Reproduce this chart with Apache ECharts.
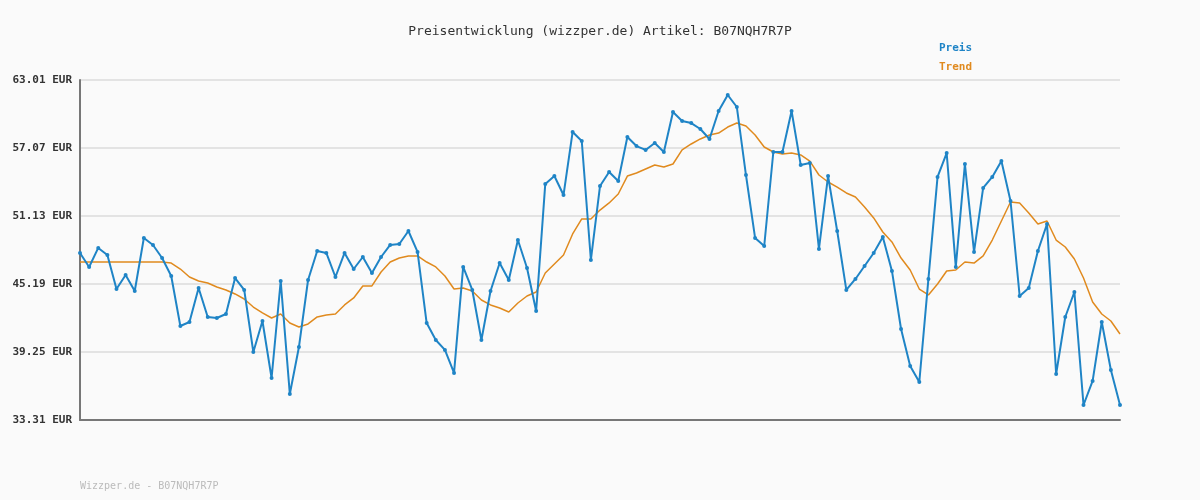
<!DOCTYPE html>
<html><head><meta charset="utf-8">
<script src="https://cdn.jsdelivr.net/npm/echarts@6/dist/echarts.min.js"></script>
<style>html,body{margin:0;background:#fafafa}#c{width:1200px;height:500px}</style>
</head><body><div id="c"></div>
<script>
const preis = [47.90,46.68,48.34,47.72,44.75,45.98,44.58,49.21,48.60,47.46,45.89,41.52,41.87,44.84,42.31,42.22,42.57,45.71,44.67,39.25,41.96,36.98,45.45,35.58,39.69,45.54,48.07,47.90,45.80,47.90,46.50,47.55,46.15,47.55,48.60,48.68,49.82,47.99,41.78,
40.30,39.43,37.42,46.68,44.67,40.30,44.58,47.02,45.54,49.03,46.59,42.83,53.93,54.62,52.96,58.47,57.68,47.29,53.75,54.97,54.19,58.03,57.24,56.90,57.51,56.72,60.21,59.43,59.25,58.73,57.86,60.30,61.70,60.65,54.71,49.21,48.51,56.72,
56.72,60.30,55.59,55.76,48.25,54.62,49.82,44.67,45.63,46.76,47.90,49.30,46.33,41.26,38.03,36.63,45.63,54.54,56.63,46.68,55.67,47.99,53.58,54.54,55.93,52.44,44.14,44.84,48.07,50.43,37.33,42.31,44.49,34.62,36.72,41.87,37.68,34.62];
const trend = [47.11,47.11,47.11,47.11,47.11,47.11,47.11,47.11,47.11,47.11,
47.02,46.50,45.80,45.45,45.28,44.93,44.67,44.32,43.88,43.18,42.66,42.22,42.57,41.78,41.43,41.70,42.31,42.48,42.57,43.36,43.97,45.02,45.02,46.24,47.11,47.46,47.64,47.64,47.11,
46.68,45.89,44.75,44.84,44.58,43.79,43.36,43.09,42.74,43.53,44.14,44.49,46.15,46.94,47.72,49.56,50.87,50.87,51.65,52.27,53.05,54.62,54.89,55.24,55.59,55.41,55.67,56.90,57.42,57.86,58.21,58.38,58.90,59.25,58.99,58.21,57.16,56.72,
56.55,56.63,56.46,55.93,54.71,54.10,53.66,53.14,52.79,51.92,50.96,49.73,48.86,47.46,46.41,44.75,44.23,45.19,46.33,46.41,47.11,47.02,47.64,49.03,50.69,52.35,52.27,51.39,50.43,50.69,49.03,48.42,47.37,45.71,43.62,42.57,41.96,40.82];
const categories = preis.map((_, i) => String(i + 1));
const yMin = 33.31, yMax = 63.01, yStep = 5.94;
const mono = 'DejaVu Sans Mono';
const chart = echarts.init(document.getElementById('c'));
chart.setOption({
  backgroundColor: '#fafafa',
  animation: false,
  title: { text: 'Preisentwicklung (wizzper.de) Artikel: B07NQH7R7P', left: 'center', top: 20,
    textStyle: { fontFamily: mono, fontSize: 13, fontWeight: 'normal', color: '#333' } },
  legend: { orient: 'vertical', left: 929, top: 38, itemWidth: 0, itemHeight: 0, itemGap: 8, icon: 'none',
    data: [{ name: 'Preis', textStyle: { color: '#1f84c6' } }, { name: 'Trend', textStyle: { color: '#e08a1e' } }],
    textStyle: { fontFamily: mono, fontSize: 11, fontWeight: 'bold' } },
  grid: { left: 80, right: 80, top: 80, bottom: 80 },
  xAxis: { type: 'category', data: categories, boundaryGap: false,
    axisLine: { lineStyle: { color: '#777', width: 2 } }, axisTick: { show: false }, axisLabel: { show: false } },
  yAxis: { type: 'value', min: yMin, max: yMax, interval: yStep,
    axisLine: { show: true, lineStyle: { color: '#777', width: 2 } },
    splitLine: { lineStyle: { color: '#e3e3e3', width: 2 } },
    axisLabel: { fontFamily: mono, fontSize: 11, fontWeight: 'bold', color: '#333', margin: 8,
      formatter: v => v.toFixed(2) + ' EUR' } },
  series: [
    { name: 'Trend', type: 'line', data: trend, showSymbol: false, lineStyle: { color: '#e08a1e', width: 1.5 }, itemStyle: { color: '#e08a1e' } },
    { name: 'Preis', type: 'line', data: preis, symbol: 'circle', symbolSize: 4, lineStyle: { color: '#1f84c6', width: 2 }, itemStyle: { color: '#1f84c6' } }
  ],
  graphic: [{ type: 'text', left: 80, top: 481, style: { text: 'Wizzper.de - B07NQH7R7P', fill: '#bbb', font: '10px ' + mono } }]
});
</script></body></html>
